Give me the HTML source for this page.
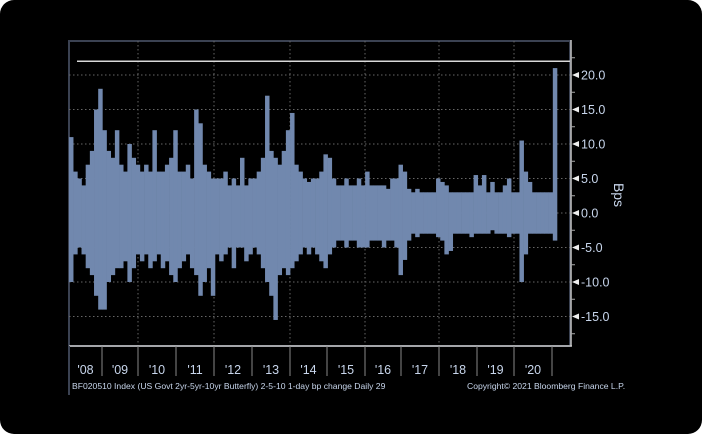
<!DOCTYPE html>
<html><head><meta charset="utf-8"><style>
html,body{margin:0;padding:0;background:#fff;}
#card{position:relative;width:702px;height:434px;background:#000;border-radius:14px;overflow:hidden;}
svg{position:absolute;left:0;top:0;}
text{font-family:"Liberation Sans",sans-serif;}
</style></head><body>
<div id="card">
<svg id="chart" width="702" height="434"></svg>
</div>
<script>
const yearLabels=["'08","'09","'10","'11","'12","'13","'14","'15","'16","'17","'18","'19","'20"];
const yTicks=[20,15,10,5,0,-5,-10,-15];
const highs=[11,6,5,4,7,9,15,18,
12,9,8,12,7,6,10,8,7,
6,7,6,12,6,6,7,8,12,
6,6,7,5,15,13,7,6,5,
5,5,6,4,5,4,8,4,5,
5,6,8,17,9,8,7,9,12,
14.5,7,6,5,4.5,5,5,6,8.5,
8,5,4,4,5,4,4,5,4,
6,4,4,4,4,3.5,5,5,7,
6,3.5,3,3.5,3,3,3,3,5,
4.5,4,3,3,3,3,3,3,5.5,
4,5.5,3,4.5,3,3,4,5,3,
3,10.5,6,4.5,3,3,3,3,3,21];
const lows=[-10,-6,-5,-6,-8,-9,-12,-14,
-14,-10,-9,-8,-8,-7,-10,-8,-6,
-7,-6,-8,-7,-6,-8,-7,-9,-10,
-8,-7,-6,-8,-9,-12,-10,-8,-12,
-6,-7,-6,-5,-8,-5,-5,-7,-6,
-5,-6,-8,-10,-12,-15.5,-9,-8,-9,
-8,-7,-6,-5,-6,-5,-6,-7,-8,
-6,-5,-4,-4,-5,-4,-4,-5,-5,
-5,-4,-4,-4,-5,-4,-4,-5,-9,
-6.8,-4,-3,-3.5,-3,-3,-3,-3,-3.5,
-4,-6,-5.5,-3,-3,-3,-3,-3.5,-3,
-3,-3,-3,-2.5,-3,-3,-3,-3.5,-3,
-3,-10,-6,-3,-3,-3,-3,-3,-3,-4];
const thresholdValue=22;

const svg=document.getElementById('chart');
const NS='http://www.w3.org/2000/svg';
const L=69,R=570,T=41,B=346,dataEnd=557;
const yZero=213,pxPer=6.9;
function y(v){return yZero-v*pxPer;}
const bw=(dataEnd-L)/highs.length;
function xb(i){return L+i*bw;}
const yearX=[69,102,138,176,214,252,290,327,365,401,439,477,514,552];
function mk(tag,attrs,parent){const e=document.createElementNS(NS,tag);for(const k in attrs)e.setAttribute(k,attrs[k]);(parent||svg).appendChild(e);return e;}

// frame
const frame=mk('rect',{x:L,y:T,width:R-L,height:B-T,fill:'none',stroke:'#3b4252','stroke-width':2});


// grid horizontal
yTicks.forEach(v=>{
  const g=mk('line',{x1:L,x2:R,y1:y(v),y2:y(v),stroke:'#666','stroke-width':1,'stroke-dasharray':'1.5,2.5'});
  
  
});
// grid vertical every 2 years
[2,4,6,8,10,12].forEach(i=>{
  const g=mk('line',{x1:yearX[i],x2:yearX[i],y1:T,y2:B,stroke:'#666','stroke-width':1,'stroke-dasharray':'1.5,2.5'});
  
  
});
// bars
highs.forEach((h,i)=>{
  const lo=lows[i];
  const r=mk('rect',{x:xb(i),y:y(h),width:bw+0.3,height:y(lo)-y(h),fill:'#7188ae'});
  
  
});
// threshold line
const th=mk('line',{x1:77,x2:R,y1:y(thresholdValue),y2:y(thresholdValue),stroke:'#d8d8d8','stroke-width':1.5});


// right axis
const ra=mk('line',{x1:R+1,x2:R+1,y1:T-1,y2:B,stroke:'#c8c8c8','stroke-width':1.5});


for(let v=-17.5;v<=22.5;v+=5){
  const t=mk('line',{x1:R+1,x2:R+5,y1:y(v),y2:y(v),stroke:'#aaa','stroke-width':1});
  
  
}
yTicks.forEach(v=>{
  const tri=mk('path',{d:`M${R+2} ${y(v)} L${R+9} ${y(v)-3} L${R+9} ${y(v)+3} Z`,fill:'#eee'});
  
  
  const tx=mk('text',{x:R+11,y:y(v)+4.5,fill:'#c8d6ec','font-size':12.5});
  tx.textContent=v.toFixed(1);
  
  
});
const yt=mk('text',{x:614,y:195,fill:'#c8d6ec','font-size':14,transform:'rotate(90 614 195)','text-anchor':'middle'});
yt.textContent='Bps';


// bottom axis
const ba=mk('line',{x1:L,x2:R+2,y1:B,y2:B,stroke:'#c8c8c8','stroke-width':1.5});


const ll=mk('line',{x1:L,x2:L,y1:B,y2:395,stroke:'#3b4252','stroke-width':2});


yearX.slice(1).forEach(x=>{
  const s=mk('line',{x1:x,x2:x,y1:B,y2:376,stroke:'#888','stroke-width':1});
  
  
});
yearLabels.forEach((lab,i)=>{
  const tx=mk('text',{x:(yearX[i]+yearX[i+1])/2,y:374,fill:'#c8d6ec','font-size':12.5,'text-anchor':'middle','font-family':'Liberation Serif'});
  tx.textContent=lab;
  
  
});
const f1=mk('text',{x:72,y:389,fill:'#c8d6ec','font-size':8.6});
f1.textContent='BF020510 Index (US Govt 2yr-5yr-10yr Butterfly) 2-5-10 1-day bp change  Daily 29';


const f2=mk('text',{x:467,y:389,fill:'#c8d6ec','font-size':8.6});
f2.textContent='Copyright\u00A9 2021 Bloomberg Finance L.P.';


</script>
</body></html>
